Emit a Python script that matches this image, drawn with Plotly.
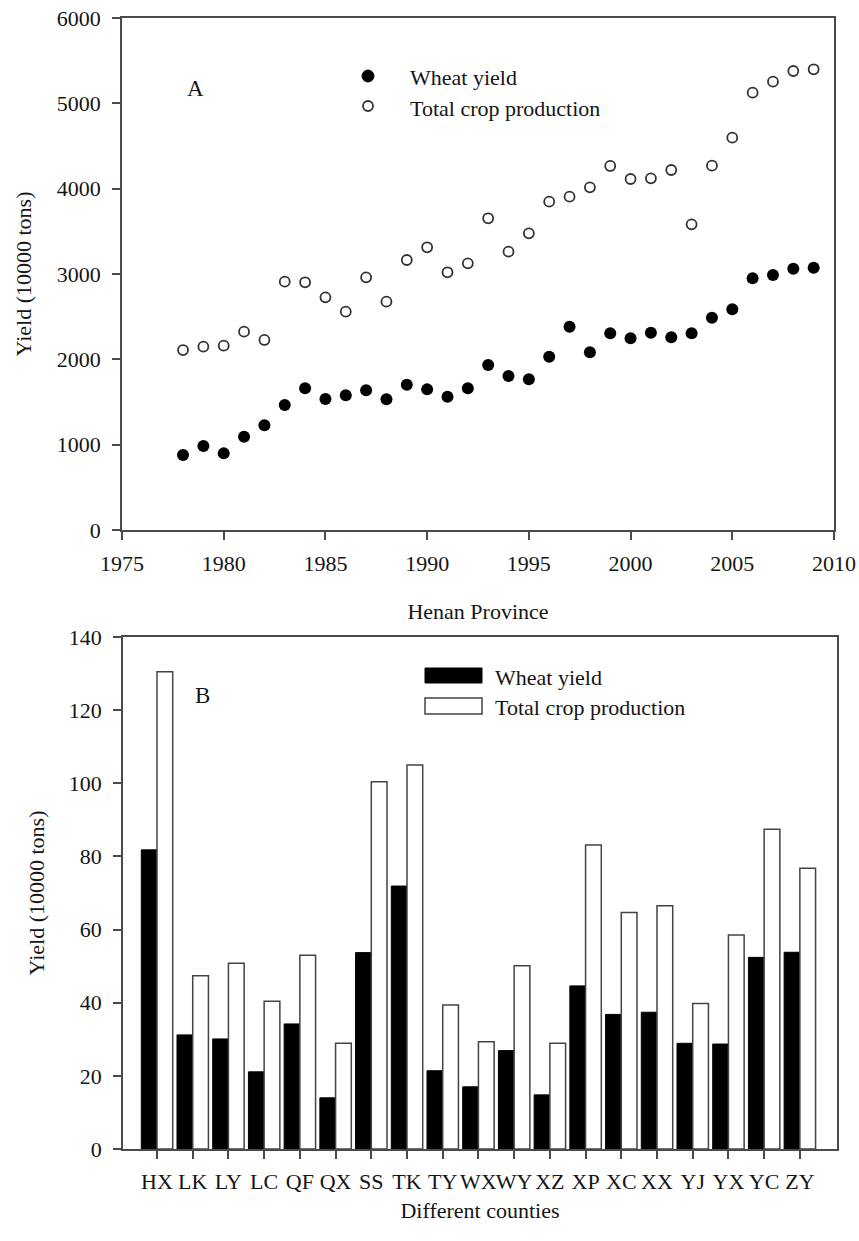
import plotly.graph_objects as go
from plotly.subplots import make_subplots

# ---- data: panel A (Henan Province) ----
years = list(range(1978, 2010))
wheat_yield = [879, 984, 898, 1094, 1227, 1465, 1660, 1535, 1578, 1637, 1531, 1703,
               1648, 1562, 1660, 1934, 1805, 1766, 2031, 2383, 2082, 2305, 2246, 2312,
               2258, 2305, 2488, 2586, 2949, 2988, 3062, 3074]
total_crop = [2109, 2148, 2160, 2324, 2227, 2910, 2903, 2727, 2559, 2961, 2676, 3164,
              3313, 3020, 3125, 3653, 3262, 3477, 3848, 3906, 4016, 4266, 4113, 4121,
              4219, 3582, 4270, 4598, 5125, 5254, 5379, 5399]

# ---- data: panel B (counties) ----
counties = ["HX", "LK", "LY", "LC", "QF", "QX", "SS", "TK", "TY", "WX",
            "WY", "XZ", "XP", "XC", "XX", "YJ", "YX", "YC", "ZY"]
county_wheat = [81.8, 31.2, 30.1, 21.1, 34.2, 14.0, 53.7, 71.9, 21.4, 17.0,
                26.9, 14.8, 44.6, 36.8, 37.4, 28.9, 28.7, 52.4, 53.8]
county_total = [130.5, 47.4, 50.8, 40.4, 53.0, 28.9, 100.4, 105.0, 39.4, 29.3,
                50.1, 28.9, 83.1, 64.7, 66.5, 39.8, 58.5, 87.4, 76.8]

# the page body margin is removed in post_script, so the figure fills the page
OFF = 0
W, H = 859, 1241
ML, MR, MT, MB = 122, 22, 18, 92
PW, PH = W - ML - MR, H - MT - MB
FONT = "Liberation Serif, Times New Roman, serif"
TXT = "#151515"
AX = "#4a4a4a"
FS = 22


def px(x):
    """page pixel x -> paper fraction"""
    return (x - OFF - ML) / PW


def py(y):
    """page pixel y -> paper fraction"""
    return (H - MB - (y - OFF)) / PH


fig = make_subplots(rows=2, cols=1)

fig.add_trace(go.Scatter(x=years, y=total_crop, mode="markers", name="Total crop production",
                         marker=dict(symbol="circle-open", size=10, color="#333333",
                                     line=dict(width=1.8, color="#333333")),
                         showlegend=False), row=1, col=1)
fig.add_trace(go.Scatter(x=years, y=wheat_yield, mode="markers", name="Wheat yield",
                         marker=dict(symbol="circle", size=12, color="black"),
                         showlegend=False), row=1, col=1)

fig.add_trace(go.Bar(x=counties, y=county_wheat, name="Wheat yield",
                     marker=dict(color="black", line=dict(color="black", width=1)),
                     showlegend=False), row=2, col=1)
fig.add_trace(go.Bar(x=counties, y=county_total, name="Total crop production",
                     marker=dict(color="white", line=dict(color="#444444", width=1.5)),
                     showlegend=False), row=2, col=1)

axis_common = dict(showline=True, linecolor=AX, linewidth=1.5, mirror=True,
                   ticks="outside", ticklen=8, tickwidth=1.5, tickcolor=AX,
                   showgrid=False, zeroline=False, automargin=False,
                   ticklabeloverflow="allow",
                   tickfont=dict(family=FONT, size=FS, color=TXT),
                   title_font=dict(family=FONT, size=FS, color=TXT))

fig.update_layout(
    width=W, height=H,
    margin=dict(l=ML, r=MR, t=MT, b=MB),
    plot_bgcolor="white", paper_bgcolor="white",
    barmode="group", bargap=0.12, bargroupgap=0,
    xaxis=dict(domain=[px(122), px(834)], range=[1975, 2010], dtick=5, tick0=1975,
               title=dict(text="Henan Province", standoff=28),
               ticklabelstandoff=5, tickangle=0, **axis_common),
    yaxis=dict(domain=[py(530), py(18)], range=[0, 6000], dtick=1000,
               title=dict(text="Yield (10000 tons)", standoff=19),
               ticklabelstandoff=7, **axis_common),
    xaxis2=dict(domain=[px(123), px(837)], range=[-0.952, 19.04], type="category",
                title=dict(text="Different counties", standoff=9),
                ticklabelstandoff=4, tickangle=0, **axis_common),
    yaxis2=dict(domain=[py(1149), py(637)], range=[0, 140], dtick=20,
                title=dict(text="Yield (10000 tons)", standoff=18),
                ticklabelstandoff=7, **axis_common),
)

shapes = []
annotations = []

# panel labels
annotations.append(dict(x=px(195), y=py(88), xref="paper", yref="paper", text="A",
                        showarrow=False, xanchor="center", yanchor="middle",
                        font=dict(family=FONT, size=23, color=TXT)))
annotations.append(dict(x=px(202), y=py(695), xref="paper", yref="paper", text="B",
                        showarrow=False, xanchor="center", yanchor="middle",
                        font=dict(family=FONT, size=23, color=TXT)))

# legend A
shapes.append(dict(type="circle", xref="paper", yref="paper", xsizemode="pixel", ysizemode="pixel",
                   xanchor=px(368), yanchor=py(76), x0=-6, x1=6, y0=-6, y1=6,
                   fillcolor="black", line=dict(color="black", width=1)))
shapes.append(dict(type="circle", xref="paper", yref="paper", xsizemode="pixel", ysizemode="pixel",
                   xanchor=px(368), yanchor=py(106), x0=-5, x1=5, y0=-5, y1=5,
                   fillcolor="white", line=dict(color="#333333", width=1.8)))
for txt, yy in [("Wheat yield", 78), ("Total crop production", 108)]:
    annotations.append(dict(x=px(408), y=py(yy), xref="paper", yref="paper", text=txt,
                            showarrow=False, xanchor="left", yanchor="middle",
                            font=dict(family=FONT, size=FS, color=TXT)))

# legend B
shapes.append(dict(type="rect", xref="paper", yref="paper",
                   x0=px(425), x1=px(482), y0=py(683), y1=py(668),
                   fillcolor="black", line=dict(color="black", width=1)))
shapes.append(dict(type="rect", xref="paper", yref="paper",
                   x0=px(425), x1=px(482), y0=py(714), y1=py(698),
                   fillcolor="white", line=dict(color="#444444", width=1.5)))
for txt, yy in [("Wheat yield", 677), ("Total crop production", 707)]:
    annotations.append(dict(x=px(493), y=py(yy), xref="paper", yref="paper", text=txt,
                            showarrow=False, xanchor="left", yanchor="middle",
                            font=dict(family=FONT, size=FS, color=TXT)))

fig.update_layout(shapes=shapes, annotations=annotations)

fig.write_html("out.html",
               config={"displayModeBar": False},
               post_script="document.body.style.margin='0';document.body.style.overflow='hidden';")
